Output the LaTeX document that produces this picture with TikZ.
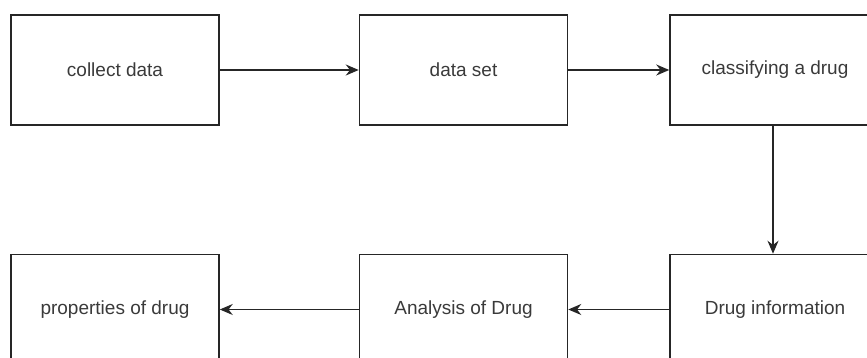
\documentclass[tikz,border=0pt]{standalone}
\usepackage{fontspec}
\setmainfont{Liberation Sans}
\usepackage{tikz}
\usetikzlibrary{positioning}
\usetikzlibrary{arrows.meta}
\definecolor{boxtext}{HTML}{3A3A3A}
\tikzstyle{flow box}=[draw=black!85,line width=1.5pt,minimum width=208pt,minimum height=110pt,inner sep=0pt,text=boxtext,font=\fontsize{19}{23}\selectfont]
\tikzstyle{flow edge}=[-{Stealth[length=13pt,width=11pt]},line width=1.5pt,draw=black!85]
\newcommand{\stepnode}[3][]{
  \node [flow box, #1] (#2) {#3}
}

\begin{document}
\begin{tikzpicture}[node distance=139pt]
        \useasboundingbox (0,0) rectangle (867pt,358pt);
        \stepnode[at={(115pt,288pt)}]{collect}{collect data};
        \stepnode[right=of collect]{dataset}{data set};
        \stepnode[right=101pt of dataset, minimum width=210pt]{classify}{classifying a drug};
        \stepnode[below=128pt of classify, minimum width=210pt]{druginfo}{Drug information};
        \stepnode[below=128pt of dataset]{analysis}{Analysis of Drug};
        \stepnode[below=128pt of collect]{props}{properties of drug};

      \draw[flow edge] (collect) -- (dataset);
      \draw[flow edge] (dataset) -- (classify);
      \draw[flow edge] ([xshift=-2pt]classify.south) -- ([xshift=-2pt]druginfo.north);
      \draw[flow edge] (druginfo) -- (analysis);
      \draw[flow edge] (analysis) -- (props);

      \end{tikzpicture}
\end{document}
